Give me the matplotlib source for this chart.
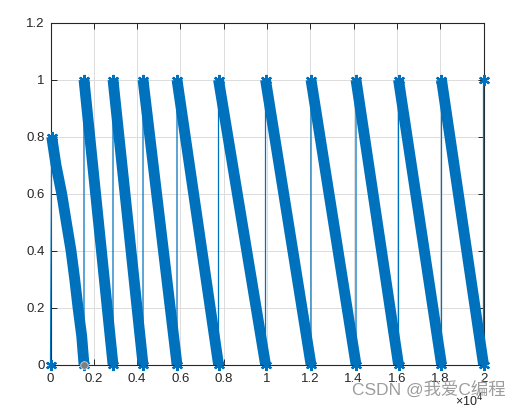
import matplotlib
matplotlib.use("Agg")
import matplotlib.pyplot as plt
from matplotlib.ticker import FuncFormatter, MultipleLocator

plt.rcParams['font.family'] = ['Liberation Sans', 'Noto Sans CJK SC', 'DejaVu Sans']

# Sample index where each ramp ends / next ramp restarts
reset_x = [1547, 2887, 4273, 5843, 7760, 9931, 12032, 14111, 16074, 18060, 20000]
# First ramp (starts at 0.8, slightly curved)
first_x = [0, 55, 254, 517, 730, 947, 1118, 1270, 1441, 1547]
first_y = [0.0, 0.8, 0.7, 0.6, 0.5, 0.4, 0.3, 0.2, 0.1, 0.0]
ramp_top = 1.0
ramp_bottom = 0.0
end_x = [20000]
end_y = [1.0]
tip_x = [1547]
tip_y = [0.0]

blue = '#0072BD'

# Build the full sequence of vertices
xs = list(first_x)
ys = list(first_y)
mk_x = [first_x[0], first_x[1], first_x[-1]]
mk_y = [first_y[0], first_y[1], first_y[-1]]
ramps = [(first_x[1:], first_y[1:])]
for a, b in zip(reset_x[:-1], reset_x[1:]):
    xs += [a, b]
    ys += [ramp_top, ramp_bottom]
    mk_x += [a, b]
    mk_y += [ramp_top, ramp_bottom]
    ramps.append(([a, b], [ramp_top, ramp_bottom]))
xs += end_x
ys += end_y
mk_x += end_x
mk_y += end_y

fig = plt.figure(figsize=(5.26, 4.08), dpi=100)
ax = fig.add_axes([50.5/526, 1-364.5/408, (483.5-50.5)/526, (364.5-22.7)/408])

# thin connecting line
ax.plot(xs, ys, color=blue, lw=0.9, zorder=3, clip_on=False)
# thick dense bands
for rx, ry in ramps:
    ax.plot(rx, ry, color=blue, lw=7.8, solid_capstyle='butt',
            solid_joinstyle='round', zorder=4, clip_on=False)
# end markers (asterisks)
ax.plot(mk_x, mk_y, ls='none', marker=(6, 2, 0), markersize=8, mew=1.6,
        color=blue, zorder=5, clip_on=False)
# data tip
ax.plot(tip_x, tip_y, ls='none', marker='o', markersize=5.5, mfc='#7f7f7f',
        mec='#d9d9d9', mew=0.6, zorder=6, clip_on=False)

ax.set_xlim(0, 20000)
ax.set_ylim(0, 1.2)
ax.xaxis.set_major_locator(MultipleLocator(2000))
ax.yaxis.set_major_locator(MultipleLocator(0.2))
ax.xaxis.set_major_formatter(FuncFormatter(lambda v, p: '%g' % round(v/1e4, 2)))
ax.yaxis.set_major_formatter(FuncFormatter(lambda v, p: '%g' % round(v, 2)))
ax.grid(True, color='#dcdcdc', lw=0.7)
ax.set_axisbelow(True)
ax.tick_params(direction='in', length=4, width=0.7, top=True, right=True,
               labelsize=9.5, colors='#262626')
ax.tick_params(axis='x', pad=6)
ax.tick_params(axis='y', pad=4)
for s in ax.spines.values():
    s.set_color('#262626')
    s.set_linewidth(0.8)
    s.set_zorder(2)

fig.text(455/526, 1-401/408, '×10$^{4}$', fontsize=9, color='#262626',
         va='center', ha='left')
fig.text(352/526, 1-389/408, 'CSDN @我爱C编程', fontsize=12.5, color='#8c8c8c',
         alpha=0.85, va='center', ha='left',
         family=['Liberation Sans', 'Noto Sans CJK SC'])

fig.savefig('out.png', dpi=100)
